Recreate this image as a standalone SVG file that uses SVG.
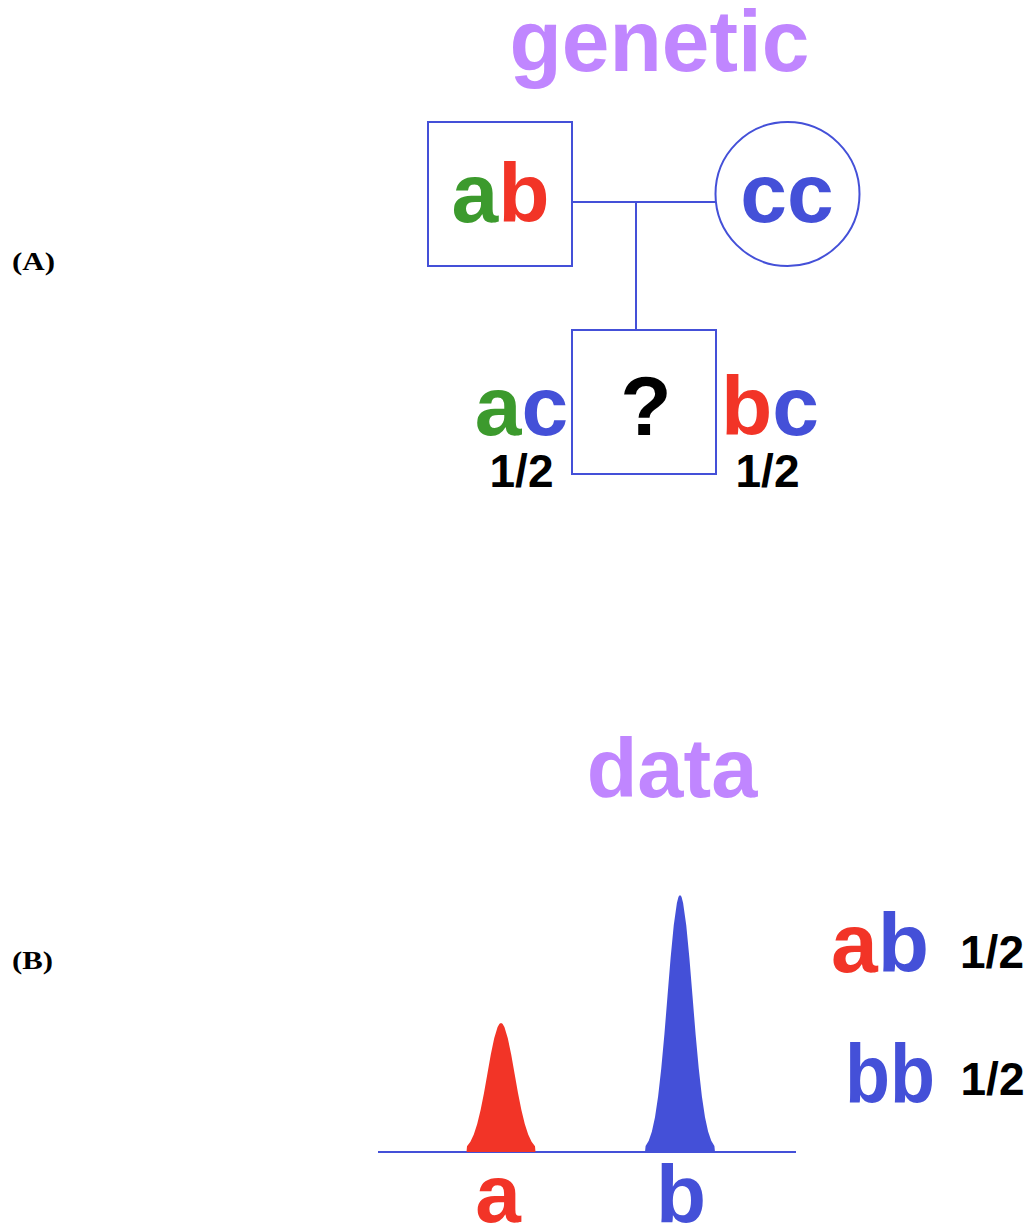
<svg xmlns="http://www.w3.org/2000/svg" width="1028" height="1228" viewBox="0 0 1028 1228">
  <style>
    .sans { font-family: "Liberation Sans", Arial, sans-serif; font-weight: bold; }
    .serif { font-family: "Liberation Serif", "Times New Roman", serif; font-weight: bold; fill: #000; }
    .title { fill: #C086FF; }
    .big { font-size: 84px; }
    .frac { font-size: 46px; fill: #000; }
    .g { fill: #3C9A2D; }
    .r { fill: #F23427; }
    .b { fill: #4450D8; }
    .shape { fill: #fff; stroke: #4450D8; stroke-width: 2; }
    .link { stroke: #4450D8; stroke-width: 2; fill: none; }
  </style>

  <rect x="0" y="0" width="1028" height="1228" fill="#fff"/>

  <!-- panel labels -->
  <text class="serif" x="12" y="270" font-size="25" textLength="43" lengthAdjust="spacingAndGlyphs">(A)</text>
  <text class="serif" x="12" y="969" font-size="25" textLength="41" lengthAdjust="spacingAndGlyphs">(B)</text>

  <!-- (A) pedigree -->
  <text class="sans title" x="509.5" y="71" font-size="88" textLength="300" lengthAdjust="spacingAndGlyphs">genetic</text>

  <g id="connectors">
    <line class="link" x1="572" y1="202" x2="716" y2="202"/>
    <line class="link" x1="636" y1="202" x2="636" y2="330"/>
  </g>

  <g id="father">
    <rect class="shape" x="428" y="122" width="144" height="144"/>
    <text class="sans big" x="500.5" y="222" text-anchor="middle"><tspan class="g">a</tspan><tspan class="r">b</tspan></text>
  </g>

  <g id="mother">
    <circle class="shape" cx="787.5" cy="194" r="72"/>
    <text class="sans big b" x="787" y="222" text-anchor="middle">cc</text>
  </g>

  <g id="child">
    <rect class="shape" x="572" y="330" width="144" height="144"/>
    <text class="sans big" x="646" y="435" text-anchor="middle" fill="#000">?</text>
  </g>

  <g id="outcome-ac">
    <text class="sans big" x="521.5" y="435" text-anchor="middle" font-size="82"><tspan class="g">a</tspan><tspan class="b">c</tspan></text>
    <text class="sans frac" x="521.5" y="487" text-anchor="middle">1/2</text>
  </g>

  <g id="outcome-bc">
    <text class="sans big" x="770" y="435" text-anchor="middle" font-size="82"><tspan class="r">b</tspan><tspan class="b">c</tspan></text>
    <text class="sans frac" x="767.5" y="487" text-anchor="middle">1/2</text>
  </g>

  <!-- (B) observed peaks -->
  <text class="sans title" x="672" y="797" font-size="83" text-anchor="middle">data</text>

  <g id="trace">
    <line x1="378" y1="1152" x2="796" y2="1152" stroke="#4450D8" stroke-width="2"/>
    <path id="peak-a" class="r" d="M466.5,1152 L467,1146.3 L470.4,1141.7 L473.8,1134.5 L477.2,1124.1 L480.6,1110.1 L484,1092.9 L487.4,1073.8 L490.8,1054.6 L494.2,1038.2 L497.6,1027 L499.5,1023.8 L501,1023 L502.5,1023.8 L504.4,1027 L507.8,1038.2 L511.2,1054.6 L514.6,1073.8 L518,1092.9 L521.4,1110.1 L524.8,1124.1 L528.2,1134.5 L531.6,1141.7 L535,1146.3 L535.5,1152 Z"/>
    <path id="peak-b" class="b" d="M645,1152 L645.6,1146.1 L648.75,1140.7 L651.9,1131.5 L655,1117.2 L658.1,1096.4 L661.25,1068.6 L664.4,1034.3 L667.5,996.1 L670.6,958 L673.75,925.2 L676.9,902.9 L678.5,896.8 L680,895 L681.5,896.8 L683.1,902.9 L686.25,925.2 L689.4,958 L692.5,996.1 L695.6,1034.3 L698.75,1068.6 L701.9,1096.4 L705,1117.2 L708.1,1131.5 L711.25,1140.7 L714.4,1146.1 L715,1152 Z"/>
  </g>

  <text class="sans r" x="498" y="1222" font-size="82" text-anchor="middle">a</text>
  <text class="sans b" x="681" y="1222" font-size="82" text-anchor="middle">b</text>

  <g id="call-ab">
    <text class="sans big" x="880" y="972" text-anchor="middle"><tspan class="r">a</tspan><tspan class="b">b</tspan></text>
    <text class="sans frac" x="992" y="968" text-anchor="middle">1/2</text>
  </g>

  <g id="call-bb">
    <text class="sans big b" x="890" y="1103" text-anchor="middle" textLength="90" lengthAdjust="spacingAndGlyphs">bb</text>
    <text class="sans frac" x="992.5" y="1095" text-anchor="middle">1/2</text>
  </g>
</svg>
